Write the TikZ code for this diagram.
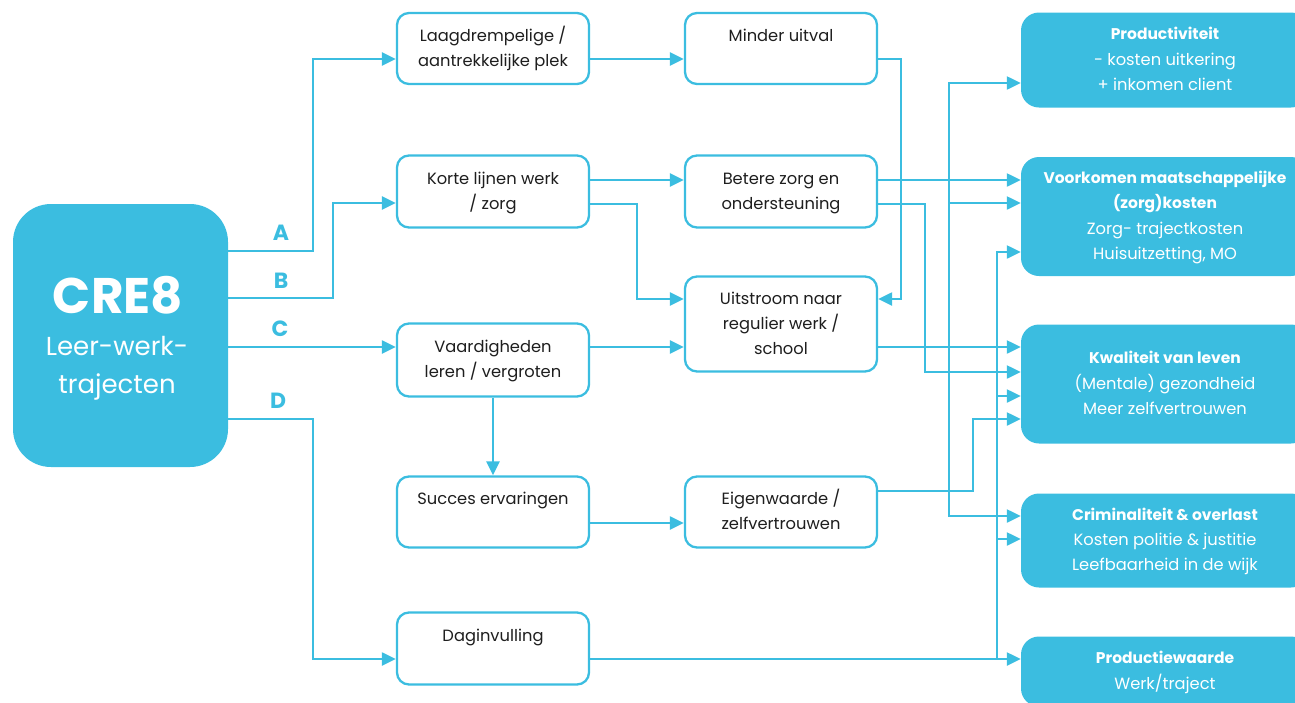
\documentclass[tikz,border=0pt]{standalone}
\usepackage{fontspec}
\setmainfont{Poppins}
\usetikzlibrary{arrows.meta}
\definecolor{cre}{RGB}{59,189,224}
\definecolor{txt}{RGB}{30,30,30}
\newcommand\boxtitle[1]{{\fontsize{15.5}{25.3}\selectfont\bfseries #1}}
\begin{document}
\begin{tikzpicture}[x=1pt,y=-1pt,
  wbox/.style={draw=cre, line width=2.3pt, rounded corners=12pt, fill=white, minimum width=192pt, inner sep=0pt, align=center, text=txt, font=\fontsize{16.3}{25}\selectfont},
  bbox/.style={fill=cre, rounded corners=18pt, minimum width=288pt, inner sep=0pt, align=center, text=white, font=\fontsize{16.3}{25.3}\selectfont},
  conn/.style={draw=cre, line width=2.3pt, -{Triangle[length=14pt,width=13pt]}},
  lbl/.style={text=cre, inner sep=0pt, font=\fontsize{22}{22}\selectfont\bfseries},
]
\useasboundingbox (0,0) rectangle (1295,702);
\clip (0,0) rectangle (1295,702);

% main source
\node[fill=cre, rounded corners=38pt, minimum width=215pt, minimum height=263pt, inner sep=0pt] (cre8) at (120.5,335.5) {};
\node[text=white, inner sep=0pt, font=\fontsize{50}{50}\selectfont\bfseries] (cretitle) at (118,295) {CRE8};
\node[text=white, inner sep=0pt, align=center, font=\fontsize{26}{38}\selectfont] (cresub) at (117,368) {Leer-werk-\\trajecten};

% middle column
\node[wbox, minimum height=71pt] (laag) at (493,48.5) {Laagdrempelige /\strut\\aantrekkelijke plek\strut};
\node[wbox, minimum height=72pt] (korte) at (493,191.5) {Korte lijnen werk\strut\\/ zorg\strut};
\node[wbox, minimum height=73pt] (vaard) at (493,360) {Vaardigheden\strut\\leren / vergroten\strut};
\node[wbox, minimum height=71pt] (succes) at (493,512) {Succes ervaringen\strut\\\strut};
\node[wbox, minimum height=72pt] (dag) at (493,648.5) {Daginvulling\strut\\\strut};

\node[wbox, minimum height=71pt] (minder) at (781,48.5) {Minder uitval\strut\\\strut};
\node[wbox, minimum height=72pt] (betere) at (781,191.5) {Betere zorg en\strut\\ondersteuning\strut};
\node[wbox, minimum height=95pt] (uit) at (781,324) {Uitstroom naar\strut\\regulier werk /\strut\\school\strut};
\node[wbox, minimum height=71pt] (eigen) at (781,512) {Eigenwaarde /\strut\\zelfvertrouwen\strut};

% outcome boxes
\node[bbox, minimum height=95pt] (prod) at (1165,60) {\boxtitle{Productiviteit}\strut\\- kosten uitkering\strut\\+ inkomen client\strut};
\node[bbox, minimum height=119pt] (voork) at (1165,216.5) {\boxtitle{Voorkomen maatschappelijke}\strut\\\boxtitle{(zorg)kosten}\strut\\Zorg- trajectkosten\strut\\Huisuitzetting, MO\strut};
\node[bbox, minimum height=119pt] (kwal) at (1165,384) {\boxtitle{Kwaliteit van leven}\strut\\(Mentale) gezondheid\strut\\Meer zelfvertrouwen\strut};
\node[bbox, minimum height=94pt] (crim) at (1165,540.5) {\boxtitle{Criminaliteit \& overlast}\strut\\Kosten politie \& justitie\strut\\Leefbaarheid in de wijk\strut};
\node[bbox, minimum height=70pt] (pw) at (1165,671.5) {\boxtitle{Productiewaarde}\strut\\Werk/traject\strut};

% branch labels
\node[lbl] (la) at (281,233) {A};
\node[lbl] (lb) at (281,281) {B};
\node[lbl] (lc) at (280,329) {C};
\node[lbl] (ld) at (278,401) {D};

% connectors from CRE8
\draw[conn] (cre8.east |- 0,251) -| (313,59) -- (laag.west |- 0,59);
\draw[conn] (cre8.east |- 0,298) -| (333,203) -- (korte.west |- 0,203);
\draw[conn] (cre8.east |- 0,347) -- (vaard.west |- 0,347);
\draw[conn] (cre8.east |- 0,419) -| (313,659) -- (dag.west |- 0,659);

% middle connectors
\draw[conn] (laag.east |- 0,59) -- (minder.west |- 0,59);
\draw[conn] (korte.east |- 0,180) -- (betere.west |- 0,180);
\draw[conn] (korte.east |- 0,204) -| (637,299) -- (uit.west |- 0,299);
\draw[conn] (vaard.east |- 0,347) -- (uit.west |- 0,347);
\draw[conn] (vaard.south) -- (succes.north);
\draw[conn] (succes.east |- 0,523) -- (eigen.west |- 0,523);
\draw[conn] (minder.east |- 0,59) -| (901,299) -- (uit.east |- 0,299);

% to outcomes
\draw[conn] (betere.east |- 0,180) -- (voork.west |- 0,180);
\draw[conn] (betere.east |- 0,204) -| (925,372) -- (kwal.west |- 0,372);
\draw[conn] (uit.east |- 0,347) -- (kwal.west |- 0,347);
\draw[conn] (eigen.east |- 0,491) -| (973,419) -- (kwal.west |- 0,419);

\coordinate (j1) at (949,491);
\draw[conn] (j1) |- (prod.west |- 0,83);
\draw[conn] (j1) |- (voork.west |- 0,203);
\draw[conn] (j1) |- (crim.west |- 0,516);

\coordinate (j2) at (997,659);
\draw[conn] (dag.east |- 0,659) -- (pw.west |- 0,659);
\draw[conn] (j2) |- (voork.west |- 0,252);
\draw[conn] (j2) |- (kwal.west |- 0,396);
\draw[conn] (j2) |- (crim.west |- 0,539);
\end{tikzpicture}
\end{document}
